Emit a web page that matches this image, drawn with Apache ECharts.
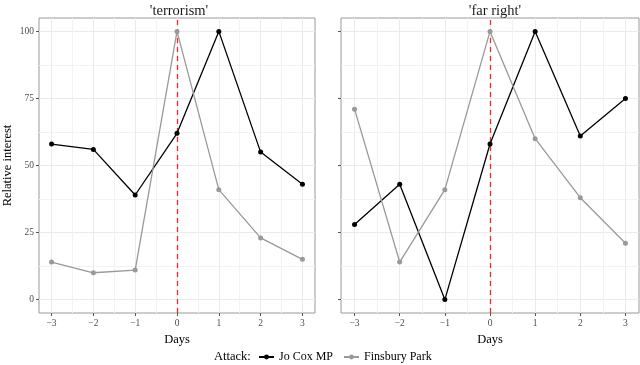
<!DOCTYPE html>
<html>
<head>
<meta charset="utf-8">
<script src="https://cdn.jsdelivr.net/npm/echarts@6/dist/echarts.min.js"></script>
<style>
  html, body { margin: 0; padding: 0; background: #fff; }
  #chart-container { width: 640px; height: 365px; }
</style>
</head>
<body>
<div id="chart-container"></div>
<script>
// days relative to the attack
const days = [-3, -2, -1, 0, 1, 2, 3];

// 'terrorism' panel
const terrorismJoCox = [58, 56, 39, 62, 100, 55, 43];
const terrorismFinsbury = [14, 10, 11, 100, 41, 23, 15];

// 'far right' panel
const farRightJoCox = [28, 43, 0, 58, 100, 61, 75];
const farRightFinsbury = [71, 14, 41, 100, 60, 38, 21];

const panelTitles = ["'terrorism'", "'far right'"];
const seriesNames = ['Jo Cox MP', 'Finsbury Park'];

const xTicks = [-3, -2, -1, 0, 1, 2, 3];
const xMinor = [-2.5, -1.5, -0.5, 0.5, 1.5, 2.5];
const yTicks = [0, 25, 50, 75, 100];
const yMinor = [12.5, 37.5, 62.5, 87.5];

const FONT = 'Liberation Serif';

function pairs(values) {
    return days.map((d, i) => [d, values[i]]);
}

const chartDom = document.getElementById('chart-container');
const myChart = echarts.init(chartDom);

const grids = [
    {left: 33, top: 18, width: 282, height: 295},
    {left: 341, top: 18, width: 298, height: 295}
];

let xAxes = [];
let yAxes = [];
grids.forEach((g, i) => {
    // major axis, carries the data
    xAxes.push({
        type: 'value', gridIndex: i, min: -3.3, max: 3.3,
        name: 'Days', nameLocation: 'middle', nameGap: 14,
        nameTextStyle: {fontFamily: FONT, fontSize: 12.5, color: '#000'},
        axisLine: {show: false, onZero: false},
        axisTick: {show: true, length: 3, customValues: xTicks, lineStyle: {color: '#555'}},
        axisLabel: {customValues: xTicks, margin: 5, fontFamily: FONT, fontSize: 9.5, color: '#4d4d4d',
            formatter: v => (v < 0 ? '\u2212' + Math.abs(v) : String(v))},
        splitLine: {show: true, lineStyle: {color: '#ebebeb', width: 1}}
    });
    // minor grid lines only
    xAxes.push({
        type: 'value', gridIndex: i, min: -3.3, max: 3.3,
        axisLine: {show: false, onZero: false}, axisTick: {show: false, customValues: xMinor},
        axisLabel: {show: false, customValues: xMinor},
        splitLine: {show: true, lineStyle: {color: '#f3f3f3', width: 1}}
    });
    yAxes.push({
        type: 'value', gridIndex: i, min: -5, max: 105,
        name: i === 0 ? 'Relative interest' : '', nameLocation: 'middle', nameGap: 25,
        nameTextStyle: {fontFamily: FONT, fontSize: 12.5, color: '#000'},
        axisLine: {show: false, onZero: false},
        axisTick: {show: true, length: 3, customValues: yTicks, lineStyle: {color: '#555'}},
        axisLabel: {show: i === 0, customValues: yTicks, margin: 5, fontFamily: FONT, fontSize: 9.5, color: '#4d4d4d'},
        splitLine: {show: true, lineStyle: {color: '#ebebeb', width: 1}}
    });
    yAxes.push({
        type: 'value', gridIndex: i, min: -5, max: 105,
        axisLine: {show: false, onZero: false}, axisTick: {show: false, customValues: yMinor},
        axisLabel: {show: false, customValues: yMinor},
        splitLine: {show: true, lineStyle: {color: '#f3f3f3', width: 1}}
    });
});

function lineSeries(name, values, color, panel) {
    return {
        name: name, type: 'line', data: pairs(values),
        xAxisIndex: panel * 2, yAxisIndex: panel * 2,
        symbol: 'circle', symbolSize: 5,
        lineStyle: {color: color, width: 1.3},
        itemStyle: {color: color},
        animation: false, z: 5
    };
}

const series = [
    lineSeries(seriesNames[0], terrorismJoCox, '#000000', 0),
    lineSeries(seriesNames[1], terrorismFinsbury, '#999999', 0),
    lineSeries(seriesNames[0], farRightJoCox, '#000000', 1),
    lineSeries(seriesNames[1], farRightFinsbury, '#999999', 1)
];

// red dashed line at day 0 in each panel
[0, 2].forEach(k => {
    series[k].markLine = {
        silent: true, symbol: 'none', animation: false,
        label: {show: false},
        lineStyle: {color: '#ee2a2a', type: [5, 4], width: 1.3},
        data: [{xAxis: 0}]
    };
});

const option = {
    animation: false,
    title: [
        {text: panelTitles[0], left: 174, top: -1, textAlign: 'center',
            textStyle: {fontFamily: FONT, fontSize: 14.5, fontWeight: 'normal', color: '#1a1a1a'}},
        {text: panelTitles[1], left: 490, top: -1, textAlign: 'center',
            textStyle: {fontFamily: FONT, fontSize: 14.5, fontWeight: 'normal', color: '#1a1a1a'}},
        {text: 'Attack:', left: 209, top: 345,
            textStyle: {fontFamily: FONT, fontSize: 12.5, fontWeight: 'normal', color: '#000'}}
    ],
    legend: {
        data: seriesNames,
        left: 253, top: 346,
        itemWidth: 15, itemHeight: 6, itemGap: 10,
        textStyle: {fontFamily: FONT, fontSize: 12, color: '#000'}
    },
    grid: grids.map(g => Object.assign({show: true, borderColor: '#9a9a9a', borderWidth: 1, backgroundColor: '#fff'}, g)),
    xAxis: xAxes,
    yAxis: yAxes,
    series: series
};

option && myChart.setOption(option, true);
</script>
</body>
</html>
